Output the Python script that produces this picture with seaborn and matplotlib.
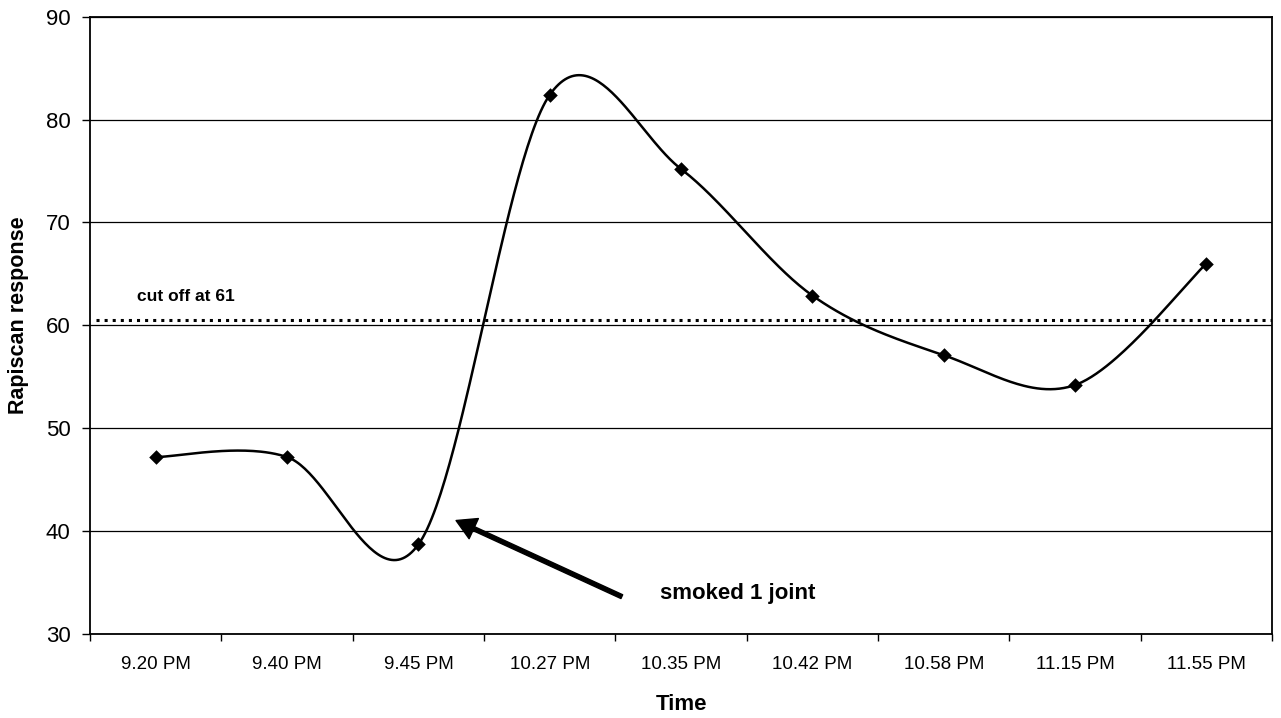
import numpy as np
import pandas as pd
import matplotlib
matplotlib.use("Agg")
import matplotlib.pyplot as plt
import seaborn as sns

# ---- data ----
times = ["9.20 PM", "9.40 PM", "9.45 PM", "10.27 PM", "10.35 PM",
         "10.42 PM", "10.58 PM", "11.15 PM", "11.55 PM"]
response = [47.2, 47.2, 38.7, 82.4, 75.2, 62.9, 57.1, 54.2, 66.0]
cutoff_value = 60.5
cutoff_label = "cut off at 61"
annotation_text = "smoked 1 joint"
y_ticks = [30, 40, 50, 60, 70, 80, 90]

sns.set_theme(style="white")
plt.rcParams["font.family"] = ["Liberation Sans", "DejaVu Sans"]
plt.rcParams["text.color"] = "black"
plt.rcParams["axes.labelcolor"] = "black"
plt.rcParams["xtick.color"] = "black"
plt.rcParams["ytick.color"] = "black"

df = pd.DataFrame({"time": times, "response": response})
df["pos"] = np.arange(len(df))


def smooth_curve(xs, ys, n=60):
    """Excel-like smoothing: Catmull-Rom cubic Bezier through the points."""
    P = np.column_stack([xs, ys]).astype(float)
    out = []
    for i in range(len(P) - 1):
        p0 = P[i - 1] if i > 0 else P[i]
        p1 = P[i]
        p2 = P[i + 1]
        p3 = P[i + 2] if i + 2 < len(P) else P[i + 1]
        c1 = p1 + (p2 - p0) / 6.0
        c2 = p2 - (p3 - p1) / 6.0
        t = np.linspace(0, 1, n)[:, None]
        seg = ((1 - t) ** 3) * p1 + 3 * ((1 - t) ** 2) * t * c1 + 3 * (1 - t) * t ** 2 * c2 + t ** 3 * p2
        out.append(seg if i == 0 else seg[1:])
    return np.vstack(out)


curve = smooth_curve(df["pos"].values, df["response"].values)
curve_df = pd.DataFrame({"x": curve[:, 0], "y": curve[:, 1]})

fig = plt.figure(figsize=(12.81, 7.18), dpi=100)
ax = fig.add_axes([0.0703, 0.117, 0.9227, 0.8597])

sns.lineplot(data=curve_df, x="x", y="y", sort=False, color="black",
             linewidth=1.8, ax=ax, zorder=3)
sns.scatterplot(data=df, x="pos", y="response", marker="D", s=55,
                color="black", edgecolor="black", linewidth=0, ax=ax, zorder=4)

# cutoff dotted line
ax.axhline(cutoff_value, xmin=0.005, xmax=1.0, color="black",
           linestyle=":", linewidth=2.2, zorder=2)
ax.text(-0.142, 62.8, cutoff_label, fontsize=12.5, fontweight="bold",
        ha="left", va="center", color="black")

# arrow annotation
ax.annotate("", xy=(2.287, 41.03), xytext=(3.549, 33.63),
            arrowprops=dict(width=3, headwidth=16, headlength=14,
                            facecolor="black", edgecolor="black",
                            shrink=0.0), zorder=5)
ax.text(3.841, 33.9, annotation_text, fontsize=16, fontweight="bold",
        ha="left", va="center", color="black")

# axes
ax.set_xlim(-0.5, len(times) - 0.5)
ax.set_ylim(30, 90)
ax.set_yticks(y_ticks)
ax.set_xticks(df["pos"])
ax.set_xticklabels(times)
ax.set_xticks(np.arange(-0.5, len(times), 1.0), minor=True)
ax.yaxis.grid(True, color="black", linewidth=0.9)
ax.xaxis.grid(False)
ax.set_axisbelow(True)

for s in ax.spines.values():
    s.set_visible(True)
    s.set_color("black")
    s.set_linewidth(1.3)

ax.tick_params(axis="y", which="major", left=True, length=6, width=1,
               pad=8, labelsize=16, colors="black")
ax.tick_params(axis="x", which="major", bottom=True, length=0, pad=16,
               labelsize=13.5, colors="black")
ax.tick_params(axis="x", which="minor", bottom=True, length=5, width=1,
               color="black")

ax.set_xlabel("Time", fontsize=16, fontweight="bold", color="black")
ax.set_ylabel("Rapiscan response", fontsize=15.5, fontweight="bold", color="black")
ax.xaxis.label.set_va("center")
ax.xaxis.set_label_coords(0.5, -0.1135)
ax.yaxis.label.set_va("center")
ax.yaxis.set_label_coords(-0.0609, 0.517)

fig.savefig("out.png", dpi=100, facecolor="white")
